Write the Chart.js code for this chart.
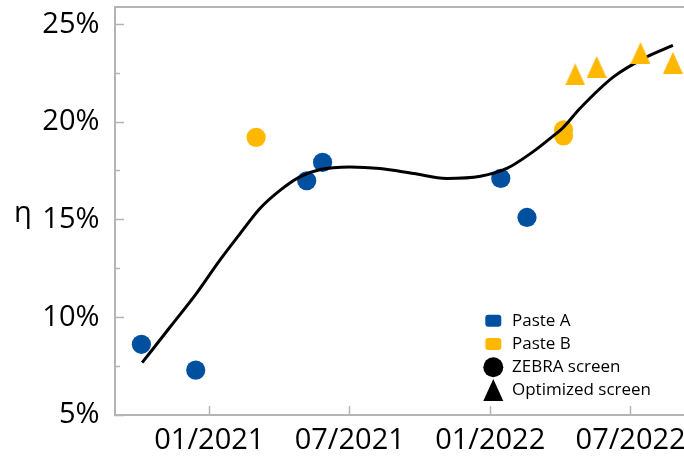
<!DOCTYPE html>
<html>
<head>
<meta charset="utf-8">
<script src="https://cdn.jsdelivr.net/npm/chart.js@4/dist/chart.umd.min.js"></script>
<style>
  html, body { margin: 0; padding: 0; background: #ffffff; }
  canvas { display: block; }
</style>
</head>
<body>
<canvas id="chart" width="684" height="456"></canvas>
<script>
// ---- data ----------------------------------------------------------------
const xTickDates  = ['2021-01-01', '2021-07-01', '2022-01-01', '2022-07-01'];
const xTickLabels = ['01/2021', '07/2021', '01/2022', '07/2022'];
const yTickValues = [5, 10, 15, 20, 25];
const yMinorTickValues = [7.5, 12.5, 17.5, 22.5];
const yTitle = 'η';

// Paste A, ZEBRA screen
const pasteAZebraDates = ['2020-10-04', '2020-12-14', '2021-05-06', '2021-05-27', '2022-01-15', '2022-02-17'];
const pasteAZebraEta   = [8.62, 7.30, 17.00, 17.94, 17.12, 15.12];

// Paste B, ZEBRA screen
const pasteBZebraDates = ['2021-03-01', '2022-04-05', '2022-04-05'];
const pasteBZebraEta   = [19.22, 19.61, 19.30];

// Paste B, optimized screen
const pasteBOptDates = ['2022-04-20', '2022-05-18', '2022-07-14', '2022-08-26'];
const pasteBOptEta   = [22.45, 22.83, 23.54, 23.04];

// trend line
const trendDates = ['2020-10-05', '2020-11-11', '2020-12-15', '2021-01-15', '2021-02-10', '2021-03-06',
                    '2021-04-02', '2021-04-27', '2021-05-24', '2021-07-01', '2021-08-10', '2021-09-23',
                    '2021-11-05', '2021-12-19', '2022-01-23', '2022-02-24', '2022-03-18', '2022-04-04',
                    '2022-04-26', '2022-06-09', '2022-07-22', '2022-08-26'];
const trendEta   = [7.68, 9.52, 11.23, 12.93, 14.30, 15.58,
                    16.52, 17.20, 17.58, 17.71, 17.63, 17.37,
                    17.12, 17.23, 17.63, 18.48, 19.16, 19.70,
                    20.70, 22.32, 23.34, 23.94];

const keyLabels = ['Paste A', 'Paste B', 'ZEBRA screen', 'Optimized screen'];

// ---- styling -------------------------------------------------------------
const BLUE = '#0050a0';
const YELLOW = '#ffb800';
const AXIS_GREY = '#b4b4b4';
const FONT = '"Open Sans", "Noto Sans", sans-serif';

// months elapsed since 01/2021 (fractional)
function monthIndex(s) {
  const [Y, M, D] = s.split('-').map(Number);
  const dim = new Date(Y, M, 0).getDate();
  return (Y - 2021) * 12 + (M - 1) + (D - 1) / dim;
}
const toPoints = (dates, vals) => dates.map((d, i) => ({ x: monthIndex(d), y: vals[i] }));

function trianglePath(ctx, cx, top, w, h) {
  ctx.beginPath();
  ctx.moveTo(cx, top);
  ctx.lineTo(cx + w / 2, top + h);
  ctx.lineTo(cx - w / 2, top + h);
  ctx.closePath();
}

// triangle marker used for the optimized-screen points
const triMarker = document.createElement('canvas');
triMarker.width = 20;
triMarker.height = 22;
(function () {
  const c = triMarker.getContext('2d');
  c.fillStyle = YELLOW;
  trianglePath(c, 10, 0, 20, 22);
  c.fill();
})();

// y-axis symbol and the marker key
const extras = {
  id: 'etaAndKey',
  afterDraw(chart) {
    const ctx = chart.ctx;
    ctx.save();
    ctx.fillStyle = '#000';
    ctx.font = '29px ' + FONT;
    ctx.textAlign = 'center';
    ctx.textBaseline = 'alphabetic';
    ctx.fillText(yTitle, 23, 222);

    const mx = 493.3, tx = 512, y0 = 320.7, step = 23.3;
    ctx.font = '17px ' + FONT;
    ctx.textAlign = 'left';
    ctx.textBaseline = 'middle';
    keyLabels.forEach((lab, i) => {
      const y = y0 + i * step;
      if (i < 2) {
        ctx.fillStyle = i === 0 ? BLUE : YELLOW;
        ctx.beginPath();
        ctx.roundRect(mx - 8, y - 6, 16, 12, 3);
        ctx.fill();
      } else if (i === 2) {
        ctx.fillStyle = '#000';
        ctx.beginPath();
        ctx.arc(mx, y, 10, 0, Math.PI * 2);
        ctx.fill();
      } else {
        ctx.fillStyle = '#000';
        trianglePath(ctx, mx, y - 11.5, 20, 22);
        ctx.fill();
      }
      ctx.fillStyle = '#000';
      ctx.fillText(lab, tx, y);
    });
    ctx.restore();
  }
};

const Y_MIN = 5, Y_MAX = 25.9;

new Chart(document.getElementById('chart'), {
  type: 'scatter',
  data: {
    datasets: [
      {
        label: 'Paste B, optimized screen',
        data: toPoints(pasteBOptDates, pasteBOptEta),
        pointStyle: triMarker,
        xAxisID: 'x', yAxisID: 'y',
        order: 1
      },
      {
        label: 'trend',
        data: toPoints(trendDates, trendEta),
        showLine: true,
        borderColor: '#000',
        borderWidth: 3,
        pointRadius: 0,
        cubicInterpolationMode: 'monotone',
        fill: false,
        xAxisID: 'x', yAxisID: 'y',
        order: 2
      },
      {
        label: 'Paste A, ZEBRA screen',
        data: toPoints(pasteAZebraDates, pasteAZebraEta),
        backgroundColor: BLUE,
        borderWidth: 0,
        pointRadius: 9.6,
        xAxisID: 'x', yAxisID: 'y',
        order: 3
      },
      {
        label: 'Paste B, ZEBRA screen',
        data: toPoints(pasteBZebraDates, pasteBZebraEta),
        backgroundColor: YELLOW,
        borderWidth: 0,
        pointRadius: 9.6,
        xAxisID: 'x', yAxisID: 'y',
        order: 3
      }
    ]
  },
  options: {
    responsive: false,
    animation: false,
    devicePixelRatio: 1,
    layout: { autoPadding: false, padding: { top: 7, left: 0, right: 0, bottom: 0 } },
    plugins: { legend: { display: false }, tooltip: { enabled: false } },
    scales: {
      x: {
        type: 'linear',
        position: 'bottom',
        min: -4.03,
        max: 20.28,
        afterBuildTicks: s => { s.ticks = xTickDates.map(d => ({ value: monthIndex(d) })); },
        afterFit: s => { s.height = 41; s.paddingLeft = 0; s.paddingRight = 0; },
        grid: { drawOnChartArea: false, tickLength: -9, tickColor: AXIS_GREY, tickWidth: 1.5 },
        border: { display: true, color: AXIS_GREY, width: 2 },
        ticks: {
          autoSkip: false, maxRotation: 0, minRotation: 0, padding: 17,
          color: '#000', font: { family: FONT, size: 29 },
          callback: (v, i) => xTickLabels[i]
        }
      },
      xTop: {
        type: 'linear',
        position: 'top',
        min: -4.03,
        max: 20.28,
        afterFit: s => { s.height = 0; s.paddingLeft = 0; s.paddingRight = 0; },
        grid: { drawOnChartArea: false, drawTicks: false },
        border: { display: true, color: AXIS_GREY, width: 2 },
        ticks: { display: false }
      },
      y: {
        type: 'linear',
        position: 'left',
        weight: 1,
        min: Y_MIN,
        max: Y_MAX,
        afterBuildTicks: s => { s.ticks = yTickValues.map(v => ({ value: v })); },
        afterFit: s => { s.width = 115; s.paddingTop = 0; s.paddingBottom = 0; },
        grid: { drawOnChartArea: false, tickLength: -9, tickColor: AXIS_GREY, tickWidth: 1.5 },
        border: { display: true, color: AXIS_GREY, width: 2 },
        ticks: {
          padding: 24.5,
          color: '#000', font: { family: FONT, size: 29 },
          callback: v => v + '%'
        }
      },
      yMinor: {
        type: 'linear',
        position: 'left',
        weight: 0,
        min: Y_MIN,
        max: Y_MAX,
        afterBuildTicks: s => { s.ticks = yMinorTickValues.map(v => ({ value: v })); },
        afterFit: s => { s.width = 0; s.paddingTop = 0; s.paddingBottom = 0; },
        grid: { drawOnChartArea: false, tickLength: -5, tickColor: AXIS_GREY, tickWidth: 1.5 },
        border: { display: false },
        ticks: { display: false }
      }
    }
  },
  plugins: [extras]
});
</script>
</body>
</html>
